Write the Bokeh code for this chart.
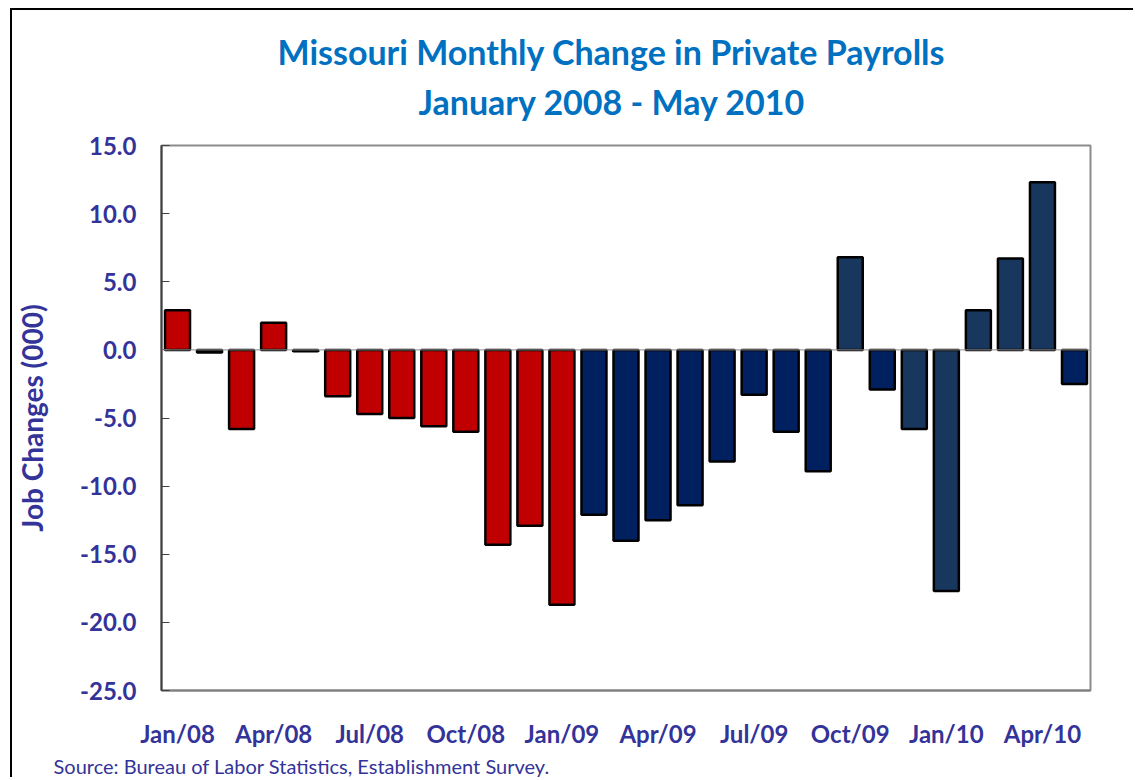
from bokeh.plotting import figure
from bokeh.models import ColumnDataSource, FixedTicker, Span, Title, Range1d
from bokeh.embed import file_html
from bokeh.resources import INLINE

# ---- data ----
months = ["Jan/08", "Feb/08", "Mar/08", "Apr/08", "May/08", "Jun/08", "Jul/08", "Aug/08",
          "Sep/08", "Oct/08", "Nov/08", "Dec/08", "Jan/09", "Feb/09", "Mar/09", "Apr/09",
          "May/09", "Jun/09", "Jul/09", "Aug/09", "Sep/09", "Oct/09", "Nov/09", "Dec/09",
          "Jan/10", "Feb/10", "Mar/10", "Apr/10", "May/10"]
values = [2.9, -0.2, -5.8, 2.0, -0.1, -3.4, -4.7, -5.0, -5.6, -6.0, -14.3, -12.9, -18.7,
          -12.1, -14.0, -12.5, -11.4, -8.2, -3.3, -6.0, -8.9, 6.8, -2.9, -5.8, -17.7,
          2.9, 6.7, 12.3, -2.5]
RED, DARK, MID = "#C00000", "#002060", "#17375E"
bar_colors = [RED] * 13 + [DARK] * 8 + [MID, DARK, MID, MID, MID, MID, MID, DARK]
tick_labels = ["Jan/08", "Apr/08", "Jul/08", "Oct/08", "Jan/09", "Apr/09", "Jul/09",
               "Oct/09", "Jan/10", "Apr/10"]
y_ticks = [15, 10, 5, 0, -5, -10, -15, -20, -25]

title_lines = ["Missouri Monthly Change in Private Payrolls", "January 2008 - May 2010"]
y_title = "Job Changes (000)"
source_note = "Source: Bureau of Labor Statistics, Establishment Survey."

FONT = "Lato"
AXIS_COLOR = "#333399"

xpos = [i + 0.5 for i in range(len(months))]
src = ColumnDataSource(dict(x=xpos, top=values, color=bar_colors, month=months))

p = figure(width=1123, height=769, x_range=Range1d(0, len(months)), y_range=Range1d(-25, 15),
           output_backend="svg", toolbar_location=None,
           min_border_left=148, min_border_right=45, min_border_top=135, min_border_bottom=89)
p.styles = {"margin-left": "10px", "margin-top": "8px",
            "border-top": "2px solid black", "border-left": "2px solid black"}

p.vbar(x="x", top="top", bottom=0, width=0.78, fill_color="color",
       line_color="black", line_width=2.5, source=src)

p.add_layout(Span(location=0, dimension="width", line_color="#909090", line_width=1))

p.xgrid.visible = False
p.ygrid.visible = False
p.outline_line_color = "#8C8C8C"
p.outline_line_width = 2
p.background_fill_color = "white"
p.border_fill_color = "white"

# x axis
tick_pos = [xpos[months.index(t)] for t in tick_labels]
p.xaxis.ticker = FixedTicker(ticks=tick_pos)
p.xaxis.major_label_overrides = {tp: t for tp, t in zip(tick_pos, tick_labels)}
p.xaxis.major_tick_in = 0
p.xaxis.major_tick_out = 0
p.xaxis.minor_tick_line_color = None
p.xaxis.axis_line_color = "#808080"
p.xaxis.axis_line_width = 2
p.xaxis.major_label_text_font = FONT
p.xaxis.major_label_text_font_style = "bold"
p.xaxis.major_label_text_font_size = "24px"
p.xaxis.major_label_text_color = AXIS_COLOR
p.xaxis.major_label_standoff = 28

# y axis
p.yaxis.ticker = FixedTicker(ticks=y_ticks)
p.yaxis.major_label_overrides = {v: f"{v:.1f}" for v in y_ticks}
p.yaxis.major_tick_in = 8
p.yaxis.major_tick_out = 0
p.yaxis.major_tick_line_color = "#404040"
p.yaxis.minor_tick_line_color = None
p.yaxis.axis_line_color = "#404040"
p.yaxis.axis_line_width = 2
p.yaxis.major_label_text_font = FONT
p.yaxis.major_label_text_font_style = "bold"
p.yaxis.major_label_text_font_size = "24px"
p.yaxis.major_label_text_color = AXIS_COLOR
p.yaxis.major_label_standoff = 25
p.yaxis.axis_label = y_title
p.yaxis.axis_label_text_font = FONT
p.yaxis.axis_label_text_font_style = "bold"
p.yaxis.axis_label_text_font_size = "28px"
p.yaxis.axis_label_text_color = AXIS_COLOR
p.yaxis.axis_label_standoff = 28

# titles (stacked outward from the frame)
title_style = dict(align="left", text_font=FONT, text_font_style="bold",
                   text_font_size="34px", text_color="#0070C0")
p.add_layout(Title(text=" ", text_font_size="1px", standoff=19), "above")
p.add_layout(Title(text=title_lines[1], standoff=4, offset=257, **title_style), "above")
p.add_layout(Title(text=title_lines[0], standoff=10, offset=116, **title_style), "above")

p.add_layout(Title(text=source_note, align="left", offset=-108, text_font=FONT,
                   text_font_style="normal", text_font_size="20px", text_color=AXIS_COLOR,
                   standoff=2), "below")

open("out.html", "w").write(file_html(p, INLINE))
